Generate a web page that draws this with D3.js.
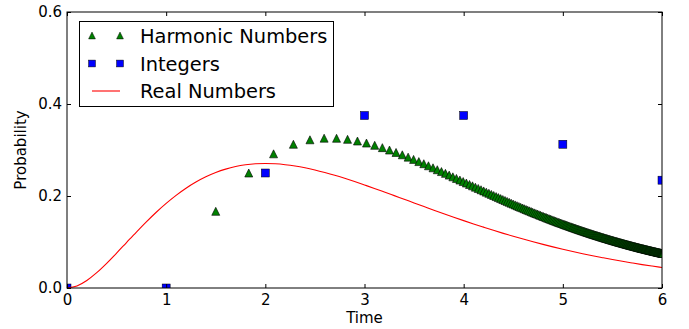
<!DOCTYPE html>
<html>
<head>
<meta charset="utf-8">
<script src="https://cdn.jsdelivr.net/npm/d3@7"></script>
<style>
  body { margin: 0; background: #fff; }
  svg { display: block; font-family: "DejaVu Sans", sans-serif; }
</style>
</head>
<body>
<div id="chart"></div>
<script>
// Harmonic numbers series (x = H_m, y = probability)
const harmonicX = [
  0, 1, 1.5, 1.833, 2.083, 2.283, 2.45, 2.593, 2.718, 2.829,
  2.929, 3.020, 3.103, 3.180, 3.252, 3.318, 3.381, 3.440, 3.495, 3.548,
  3.598, 3.645, 3.691, 3.734, 3.776, 3.816, 3.854, 3.891, 3.927, 3.962,
  3.995, 4.027, 4.059, 4.089, 4.118, 4.147, 4.175, 4.202, 4.228, 4.254,
  4.279, 4.303, 4.327, 4.350, 4.373, 4.395, 4.417, 4.438, 4.459, 4.479,
  4.499, 4.519, 4.538, 4.557, 4.575, 4.594, 4.611, 4.629, 4.646, 4.663,
  4.680, 4.696, 4.712, 4.728, 4.744, 4.759, 4.774, 4.789, 4.804, 4.819,
  4.833, 4.847, 4.861, 4.875, 4.888, 4.901, 4.915, 4.928, 4.940, 4.953,
  4.966, 4.978, 4.990, 5.002, 5.014, 5.026, 5.037, 5.049, 5.060, 5.071,
  5.083, 5.094, 5.104, 5.115, 5.126, 5.136, 5.147, 5.157, 5.167, 5.177,
  5.187, 5.197, 5.207, 5.217, 5.226, 5.236, 5.245, 5.255, 5.264, 5.273,
  5.282, 5.291, 5.300, 5.309, 5.318, 5.327, 5.335, 5.344, 5.352, 5.361,
  5.369, 5.377, 5.385, 5.393, 5.402, 5.410, 5.417, 5.425, 5.433, 5.441,
  5.449, 5.456, 5.464, 5.471, 5.479, 5.486, 5.494, 5.501, 5.508, 5.515,
  5.522, 5.530, 5.537, 5.544, 5.551, 5.557, 5.564, 5.571, 5.578, 5.585,
  5.591, 5.598, 5.604, 5.611, 5.617, 5.624, 5.630, 5.637, 5.643, 5.649,
  5.656, 5.662, 5.668, 5.674, 5.680, 5.686, 5.692, 5.698, 5.704, 5.710,
  5.716, 5.722, 5.728, 5.733, 5.739, 5.745, 5.751, 5.756, 5.762, 5.767,
  5.773, 5.778, 5.784, 5.789, 5.795, 5.800, 5.806, 5.811, 5.816, 5.822,
  5.827, 5.832, 5.837, 5.843, 5.848, 5.853, 5.858, 5.863, 5.868, 5.873,
  5.878, 5.883, 5.888, 5.893, 5.898, 5.903, 5.908, 5.912, 5.917, 5.922,
  5.927, 5.931, 5.936, 5.941, 5.946, 5.950, 5.955, 5.959, 5.964, 5.969,
  5.973, 5.978, 5.982, 5.987, 5.991, 5.996, 6.000, 6.004, 6.009, 6.013
];
const harmonicY = [
  0, 0, 0.1667, 0.25, 0.2917, 0.3125, 0.3222, 0.3257, 0.3255, 0.3232,
  0.3195, 0.3151, 0.3102, 0.3051, 0.2999, 0.2947, 0.2896, 0.2845, 0.2796, 0.2748,
  0.2702, 0.2657, 0.2613, 0.2571, 0.2531, 0.2492, 0.2454, 0.2417, 0.2382, 0.2347,
  0.2314, 0.2282, 0.2251, 0.2221, 0.2192, 0.2164, 0.2136, 0.2110, 0.2084, 0.2059,
  0.2035, 0.2011, 0.1988, 0.1966, 0.1944, 0.1923, 0.1903, 0.1883, 0.1863, 0.1844,
  0.1825, 0.1807, 0.1789, 0.1772, 0.1755, 0.1739, 0.1723, 0.1707, 0.1692, 0.1677,
  0.1662, 0.1647, 0.1633, 0.1619, 0.1606, 0.1593, 0.1580, 0.1567, 0.1554, 0.1542,
  0.1530, 0.1518, 0.1507, 0.1495, 0.1484, 0.1473, 0.1462, 0.1452, 0.1441, 0.1431,
  0.1421, 0.1411, 0.1402, 0.1392, 0.1383, 0.1374, 0.1365, 0.1356, 0.1347, 0.1338,
  0.1330, 0.1321, 0.1313, 0.1305, 0.1297, 0.1289, 0.1281, 0.1274, 0.1266, 0.1259,
  0.1251, 0.1244, 0.1237, 0.1230, 0.1223, 0.1216, 0.1209, 0.1203, 0.1196, 0.1190,
  0.1183, 0.1177, 0.1171, 0.1165, 0.1158, 0.1152, 0.1147, 0.1141, 0.1135, 0.1129,
  0.1124, 0.1118, 0.1112, 0.1107, 0.1102, 0.1096, 0.1091, 0.1086, 0.1081, 0.1076,
  0.1071, 0.1066, 0.1061, 0.1056, 0.1051, 0.1046, 0.1042, 0.1037, 0.1032, 0.1028,
  0.1023, 0.1019, 0.1015, 0.1010, 0.1006, 0.1002, 0.0997, 0.0993, 0.0989, 0.0985,
  0.0981, 0.0977, 0.0973, 0.0969, 0.0965, 0.0961, 0.0957, 0.0954, 0.0950, 0.0946,
  0.0942, 0.0939, 0.0935, 0.0932, 0.0928, 0.0925, 0.0921, 0.0918, 0.0914, 0.0911,
  0.0907, 0.0904, 0.0901, 0.0898, 0.0894, 0.0891, 0.0888, 0.0885, 0.0882, 0.0878,
  0.0875, 0.0872, 0.0869, 0.0866, 0.0863, 0.0860, 0.0857, 0.0855, 0.0852, 0.0849,
  0.0846, 0.0843, 0.0840, 0.0838, 0.0835, 0.0832, 0.0829, 0.0827, 0.0824, 0.0821,
  0.0819, 0.0816, 0.0814, 0.0811, 0.0808, 0.0806, 0.0803, 0.0801, 0.0798, 0.0796,
  0.0794, 0.0791, 0.0789, 0.0786, 0.0784, 0.0782, 0.0779, 0.0777, 0.0775, 0.0772,
  0.0770, 0.0768, 0.0766, 0.0763, 0.0761, 0.0759, 0.0757, 0.0755, 0.0753, 0.0750
];

// Integers series
const integerX = [0, 1, 2, 3, 4, 5, 6];
const integerY = [0, 0, 0.25, 0.375, 0.375, 0.3125, 0.2344];

// Real numbers curve
const realT = [
  0, 0.1, 0.2, 0.3, 0.4, 0.5, 0.6, 0.7, 0.8, 0.9,
  1.0, 1.1, 1.2, 1.3, 1.4, 1.5, 1.6, 1.7, 1.8, 1.9,
  2.0, 2.1, 2.2, 2.3, 2.4, 2.5, 2.6, 2.7, 2.8, 2.9,
  3.0, 3.1, 3.2, 3.3, 3.4, 3.5, 3.6, 3.7, 3.8, 3.9,
  4.0, 4.1, 4.2, 4.3, 4.4, 4.5, 4.6, 4.7, 4.8, 4.9,
  5.0, 5.1, 5.2, 5.3, 5.4, 5.5, 5.6, 5.7, 5.8, 5.9, 6.0
];
const realP = [
  0, 0.0045, 0.0164, 0.0333, 0.0536, 0.0758, 0.0988, 0.1217, 0.1438, 0.1647,
  0.1839, 0.2014, 0.2169, 0.2303, 0.2417, 0.2510, 0.2584, 0.2640, 0.2678, 0.2700,
  0.2707, 0.2700, 0.2681, 0.2652, 0.2613, 0.2565, 0.2510, 0.2450, 0.2384, 0.2314,
  0.2240, 0.2165, 0.2087, 0.2008, 0.1929, 0.1850, 0.1771, 0.1692, 0.1615, 0.1539,
  0.1465, 0.1393, 0.1323, 0.1254, 0.1188, 0.1125, 0.1064, 0.1005, 0.0948, 0.0894,
  0.0842, 0.0793, 0.0746, 0.0701, 0.0659, 0.0618, 0.0580, 0.0544, 0.0509, 0.0477, 0.0446
];

const xTicks = [0, 1, 2, 3, 4, 5, 6];
const yTicks = [0, 0.2, 0.4, 0.6];
const legendLabels = ['Harmonic Numbers', 'Integers', 'Real Numbers'];

const width = 689, height = 329;
const margin = { top: 12, right: 27, bottom: 41, left: 67 };

const svg = d3.select('#chart').append('svg')
  .attr('width', width)
  .attr('height', height);

const x = d3.scaleLinear().domain([0, 6]).range([margin.left, width - margin.right]);
const y = d3.scaleLinear().domain([0, 0.6]).range([height - margin.bottom, margin.top]);

svg.append('defs').append('clipPath')
  .attr('id', 'plot-clip')
  .append('rect')
  .attr('x', margin.left)
  .attr('y', margin.top)
  .attr('width', width - margin.left - margin.right)
  .attr('height', height - margin.top - margin.bottom);

const triPath = s => `M0,${-s}L${s},${s}L${-s},${s}Z`;

const plot = svg.append('g').attr('clip-path', 'url(#plot-clip)');

// harmonic triangles
plot.append('g').selectAll('path')
  .data(harmonicX.map((d, i) => [d, harmonicY[i]]))
  .enter().append('path')
  .attr('transform', d => `translate(${x(d[0])},${y(d[1])})`)
  .attr('d', triPath(4))
  .attr('fill', '#008000')
  .attr('stroke', '#000')
  .attr('stroke-width', 0.6);

// integer squares
plot.append('g').selectAll('rect')
  .data(integerX.map((d, i) => [d, integerY[i]]))
  .enter().append('rect')
  .attr('x', d => x(d[0]) - 4)
  .attr('y', d => y(d[1]) - 4)
  .attr('width', 8)
  .attr('height', 8)
  .attr('fill', '#0000ff')
  .attr('stroke', '#000')
  .attr('stroke-width', 0.5);

// real numbers line
const line = d3.line()
  .x((d, i) => x(realT[i]))
  .y(d => y(d))
  .curve(d3.curveMonotoneX);

plot.append('path')
  .datum(realP)
  .attr('d', line)
  .attr('fill', 'none')
  .attr('stroke', '#ff0000')
  .attr('stroke-width', 1.1);

// axes (ticks inside, on all four sides)
function styleAxis(g) {
  g.select('.domain').remove();
  g.selectAll('.tick line').attr('stroke', '#000');
  g.selectAll('.tick text').attr('fill', '#000').style('font-size', '15px')
    .style('font-family', '"DejaVu Sans", sans-serif');
}

svg.append('g')
  .attr('transform', `translate(0,${y(0)})`)
  .call(d3.axisBottom(x).tickValues(xTicks).tickFormat(d3.format('d')).tickSize(-4).tickPadding(6))
  .call(styleAxis);

svg.append('g')
  .attr('transform', `translate(${x(0)},0)`)
  .call(d3.axisLeft(y).tickValues(yTicks).tickFormat(d3.format('.1f')).tickSize(-4).tickPadding(5))
  .call(styleAxis);

svg.append('g')
  .attr('transform', `translate(0,${y(0.6)})`)
  .call(d3.axisTop(x).tickValues(xTicks).tickFormat('').tickSize(-4))
  .call(styleAxis);

svg.append('g')
  .attr('transform', `translate(${x(6)},0)`)
  .call(d3.axisRight(y).tickValues(yTicks).tickFormat('').tickSize(-4))
  .call(styleAxis);

svg.append('rect')
  .attr('x', x(0))
  .attr('y', y(0.6))
  .attr('width', x(6) - x(0))
  .attr('height', y(0) - y(0.6))
  .attr('fill', 'none')
  .attr('stroke', '#000')
  .attr('stroke-width', 1);

// axis labels
svg.append('text')
  .attr('x', (x(0) + x(6)) / 2)
  .attr('y', 323)
  .attr('text-anchor', 'middle')
  .style('font-size', '15px')
  .text('Time');

svg.append('text')
  .attr('transform', `translate(25.5,${(y(0) + y(0.6)) / 2}) rotate(-90)`)
  .attr('text-anchor', 'middle')
  .style('font-size', '15px')
  .text('Probability');

// legend
const legend = svg.append('g');
legend.append('rect')
  .attr('x', 79.5)
  .attr('y', 21.5)
  .attr('width', 254)
  .attr('height', 85)
  .attr('fill', '#fff')
  .attr('stroke', '#000')
  .attr('stroke-width', 1);

const rowY = [35.5, 63.5, 91];
const markX = [92, 120];

markX.forEach(mx => {
  legend.append('path')
    .attr('transform', `translate(${mx},${rowY[0]})`)
    .attr('d', triPath(3.4))
    .attr('fill', '#008000')
    .attr('stroke', '#000')
    .attr('stroke-width', 0.5);
  legend.append('rect')
    .attr('x', mx - 3.4)
    .attr('y', rowY[1] - 3.4)
    .attr('width', 6.8)
    .attr('height', 6.8)
    .attr('fill', '#0000ff')
    .attr('stroke', '#000')
    .attr('stroke-width', 0.5);
});

legend.append('line')
  .attr('x1', markX[0]).attr('x2', markX[1])
  .attr('y1', rowY[2]).attr('y2', rowY[2])
  .attr('stroke', '#ff0000')
  .attr('stroke-width', 1.1);

legend.selectAll('text.lbl')
  .data(legendLabels)
  .enter().append('text')
  .attr('class', 'lbl')
  .attr('x', 140)
  .attr('y', (d, i) => rowY[i] + 7)
  .style('font-size', '19.4px')
  .text(d => d);
</script>
</body>
</html>
